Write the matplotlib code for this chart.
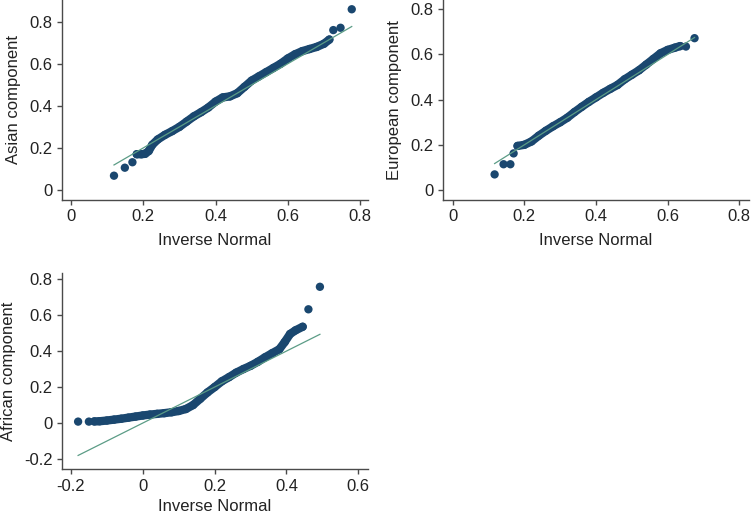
import matplotlib
matplotlib.use("Agg")
import matplotlib.pyplot as plt

plt.rcParams['font.family'] = ['Liberation Sans', 'DejaVu Sans']

asian_x = [0.119, 0.149, 0.170, 0.182, 0.195, 0.205, 0.215, 0.225, 0.240, 0.260,
           0.280, 0.300, 0.320, 0.340, 0.360, 0.380, 0.400, 0.420, 0.440, 0.460,
           0.480, 0.500, 0.520, 0.540, 0.560, 0.580, 0.600, 0.620, 0.640, 0.660,
           0.680, 0.700, 0.715, 0.726, 0.746, 0.777]
asian_y = [0.068, 0.106, 0.132, 0.170, 0.170, 0.172, 0.185, 0.215, 0.240, 0.262,
           0.280, 0.300, 0.325, 0.350, 0.370, 0.392, 0.420, 0.440, 0.445, 0.460,
           0.490, 0.520, 0.540, 0.560, 0.580, 0.600, 0.625, 0.645, 0.660, 0.670,
           0.680, 0.695, 0.715, 0.760, 0.771, 0.859]

european_x = [0.117, 0.142, 0.161, 0.170, 0.181, 0.200, 0.220, 0.240, 0.260, 0.280,
              0.300, 0.320, 0.340, 0.360, 0.380, 0.400, 0.420, 0.440, 0.460, 0.480,
              0.500, 0.520, 0.540, 0.560, 0.580, 0.600, 0.620, 0.635, 0.651, 0.675]
european_y = [0.069, 0.114, 0.114, 0.162, 0.195, 0.200, 0.215, 0.240, 0.262, 0.282,
              0.300, 0.320, 0.345, 0.368, 0.390, 0.410, 0.430, 0.448, 0.465, 0.490,
              0.510, 0.530, 0.555, 0.580, 0.605, 0.620, 0.630, 0.637, 0.635, 0.672]

african_x = [-0.180, -0.150, -0.135, -0.120, -0.100, -0.080, -0.060, -0.040, -0.020, 0.000,
             0.020, 0.040, 0.060, 0.080, 0.100, 0.120, 0.140, 0.160, 0.180, 0.200,
             0.220, 0.240, 0.260, 0.280, 0.300, 0.320, 0.340, 0.360, 0.380, 0.395,
             0.410, 0.425, 0.445, 0.461, 0.493]
african_y = [0.008, 0.008, 0.009, 0.010, 0.014, 0.019, 0.024, 0.030, 0.036, 0.042,
             0.047, 0.051, 0.055, 0.060, 0.067, 0.078, 0.100, 0.135, 0.170, 0.200,
             0.232, 0.255, 0.280, 0.300, 0.318, 0.340, 0.365, 0.388, 0.410, 0.450,
             0.495, 0.515, 0.535, 0.632, 0.757]

top_ticks = [0, 0.2, 0.4, 0.6, 0.8]
top_ticklabels = ['0', '0.2', '0.4', '0.6', '0.8']
bottom_xticks = [-0.2, 0, 0.2, 0.4, 0.6]
bottom_xticklabels = ['-0.2', '0', '0.2', '0.4', '0.6']
bottom_yticks = [-0.2, 0, 0.2, 0.4, 0.6, 0.8]
bottom_yticklabels = ['-0.2', '0', '0.2', '0.4', '0.6', '0.8']

NAVY = '#1a476f'
FIT = '#5b9c86'
AXC = '#4a4a4a'
TXT = '#222222'

W, H = 752, 515
fig = plt.figure(figsize=(W / 100, H / 100), dpi=100)


def rect(l, r, b, t):
    return [l / W, 1 - b / H, (r - l) / W, (b - t) / H]


def panel(r, x, y, band, xlim, ylim, xt, xtl, yt, ytl, ylabel, xpad=6):
    ax = fig.add_axes(r)
    s, e = band
    ax.plot(x[s:e], y[s:e], color=NAVY, lw=6.0, solid_capstyle='round',
            solid_joinstyle='round', zorder=2)
    ax.scatter(x, y, s=36, color=NAVY, edgecolors='none', zorder=3)
    lo, hi = min(x), max(x)
    ax.plot([lo, hi], [lo, hi], color=FIT, lw=0.9, zorder=4)
    ax.set_xlim(*xlim)
    ax.set_ylim(*ylim)
    ax.set_xticks(xt)
    ax.set_xticklabels(xtl)
    ax.set_yticks(yt)
    ax.set_yticklabels(ytl)
    for sp in ['top', 'right']:
        ax.spines[sp].set_visible(False)
    for sp in ['left', 'bottom']:
        ax.spines[sp].set_color(AXC)
        ax.spines[sp].set_linewidth(1.0)
    ax.tick_params(direction='out', length=3.8, width=1.0, color=AXC,
                   labelsize=12, labelcolor=TXT)
    ax.tick_params(axis='x', pad=3)
    ax.tick_params(axis='y', pad=3)
    ax.set_xlabel('Inverse Normal', fontsize=12, color=TXT, labelpad=xpad)
    ax.set_ylabel(ylabel, fontsize=12, color=TXT, labelpad=6)
    ax.patch.set_alpha(0)
    return ax


panel(rect(62, 368, 200, 0), asian_x, asian_y, (3, 33),
      (-0.0249, 0.822), (-0.0475, 0.903),
      top_ticks, top_ticklabels, top_ticks, top_ticklabels, 'Asian component')

panel(rect(442.7, 749, 200, 0), european_x, european_y, (4, 28),
      (-0.0279, 0.827), (-0.0443, 0.841),
      top_ticks, top_ticklabels, top_ticks, top_ticklabels, 'European component')

panel(rect(62.3, 367.7, 469.3, 273.3), african_x, african_y, (2, 33),
      (-0.224, 0.626), (-0.257, 0.832),
      bottom_xticks, bottom_xticklabels, bottom_yticks, bottom_yticklabels,
      'African component', xpad=4)

fig.savefig('out.png', dpi=100)
